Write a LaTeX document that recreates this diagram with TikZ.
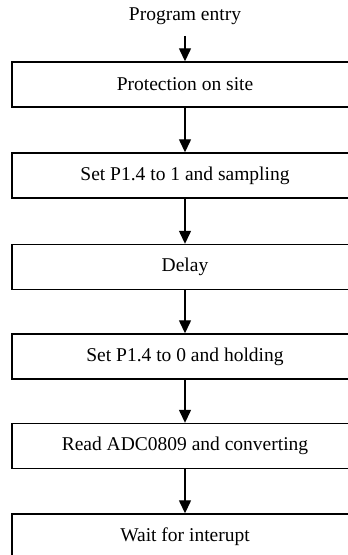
\documentclass[tikz,border=0pt]{standalone}
\usepackage{fontspec}
\setmainfont{Liberation Serif}
\usetikzlibrary{arrows.meta}

\begin{document}
\begin{tikzpicture}[x=0.02cm, y=-0.02cm, font=\fontsize{11.1}{13}\selectfont, step box/.style={draw, rectangle, minimum width=6.92cm, minimum height=0.9cm, line width=0.8pt, inner sep=0pt}, n/.style={-{Triangle[length=0.26cm, width=0.24cm]}, line width=0.75pt}]
                \useasboundingbox (0,0) rectangle (348,555);
                \clip (0,0) rectangle (348,555);
                % nodes
                \node (entry) at (185,16) {Program entry};
                \node[step box] (prot) at (185,84.5) {Protection on site};
                \node[step box] (samp) at (185,175.5) {Set P1.4 to 1 and sampling};
                \node[step box] (delay) at (185,267) {Delay};
                \node[step box] (hold) at (185,356.5) {Set P1.4 to 0 and holding};
                \node[step box] (read) at (185,446) {Read ADC0809 and converting};
                \node[step box] (wait) at (185,536.5) {Wait for interupt};
                % edges
                \draw [n, shorten <=3pt] (entry) -- (prot);
                \draw [n] (prot) -- (samp);
                \draw [n] (samp) -- (delay);
                \draw [n] (delay) -- (hold);
                \draw [n] (hold) -- (read);
                \draw [n] (read) -- (wait);
            \end{tikzpicture}
\end{document}
